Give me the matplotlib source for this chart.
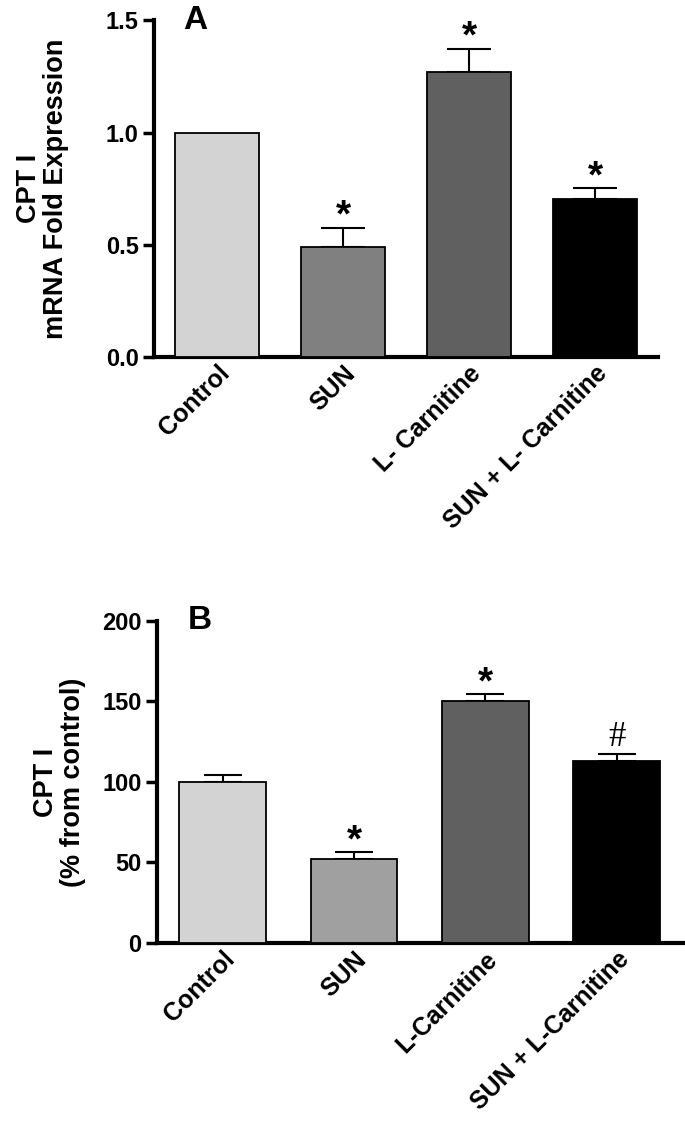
import matplotlib
matplotlib.use('Agg')
import matplotlib.pyplot as plt
import numpy as np

# ---- data ----
GROUPS_A = ['Control', 'SUN', 'L- Carnitine', 'SUN + L- Carnitine']
MEANS_A = [1.0, 0.492, 1.272, 0.704]
SEM_A = [0.0, 0.083, 0.101, 0.048]
MARKS_A = ['', '*', '*', '*']

GROUPS_B = ['Control', 'SUN', 'L-Carnitine', 'SUN + L-Carnitine']
MEANS_B = [100.0, 52.4, 150.5, 113.2]
SEM_B = [4.2, 3.9, 4.0, 4.2]
MARKS_B = ['', '*', '*', '#']

COLORS_A = ['#d3d3d3', '#808080', '#606060', '#000000']
COLORS_B = ['#d3d3d3', '#a0a0a0', '#606060', '#000000']

plt.rcParams['font.family'] = ['Liberation Sans', 'DejaVu Sans']


def draw_panel(ax, groups, means, sems, marks, colors, ylim, yticks, ytick_labels,
               ylabel, label_x, letter, xmax, capsize):
    x = np.arange(len(groups))
    ax.bar(x, means, width=0.66, color=colors, edgecolor='black', linewidth=1.3, zorder=3)
    for xi, m, s in zip(x, means, sems):
        if s > 0:
            ax.errorbar(xi, m, yerr=[[0], [s]], fmt='none', ecolor='black',
                        elinewidth=1.5, capsize=capsize, capthick=1.5, zorder=2)
    for xi, m, s, mk in zip(x, means, sems, marks):
        if not mk:
            continue
        if mk == '#':
            ax.annotate(mk, (xi, m + s), xytext=(0, 12), textcoords='offset points',
                        ha='center', va='center', fontsize=25,
                        family=['Liberation Serif', 'DejaVu Serif'])
        else:
            ax.annotate(mk, (xi, m + s), xytext=(0, 8), textcoords='offset points',
                        ha='center', va='center', fontsize=28, fontweight='bold')

    ax.set_xlim(-0.5, xmax)
    ax.set_ylim(*ylim)
    ax.set_yticks(yticks)
    ax.set_yticklabels(ytick_labels, fontsize=17, fontweight='bold')
    ax.set_xticks(x)
    ax.set_xticklabels(groups, rotation=45, ha='right', rotation_mode='anchor',
                       fontsize=18, fontweight='bold')
    ax.tick_params(axis='x', length=0, pad=3)
    ax.tick_params(axis='y', length=8, width=2.5, pad=3)
    for side in ['top', 'right']:
        ax.spines[side].set_visible(False)
    for side in ['left', 'bottom']:
        ax.spines[side].set_linewidth(3)
    ax.set_ylabel(ylabel, fontsize=19.5, fontweight='bold', linespacing=1.05,
                  va='center')
    ax.yaxis.set_label_coords(label_x, 0.5)
    ax.text(0.058, 1.0, letter, transform=ax.transAxes, fontsize=24, fontweight='bold',
            ha='left', va='center')


fig = plt.figure(figsize=(6.85, 11.38), dpi=100)

ax1 = fig.add_axes([0.2248, 0.6863, 0.7358, 0.2957])
draw_panel(ax1, GROUPS_A, MEANS_A, SEM_A, MARKS_A, COLORS_A, (0, 1.5),
           [0, 0.5, 1.0, 1.5], ['0.0', '0.5', '1.0', '1.5'],
           'CPT I\nmRNA Fold Expression', -0.222, 'A', 3.5, 16)

ax2 = fig.add_axes([0.2292, 0.1714, 0.7708, 0.2830])
draw_panel(ax2, GROUPS_B, MEANS_B, SEM_B, MARKS_B, COLORS_B, (0, 200),
           [0, 50, 100, 150, 200], ['0', '50', '100', '150', '200'],
           'CPT I\n(% from control)', -0.184, 'B', 3.52, 14)

fig.savefig('out.png', dpi=100)
